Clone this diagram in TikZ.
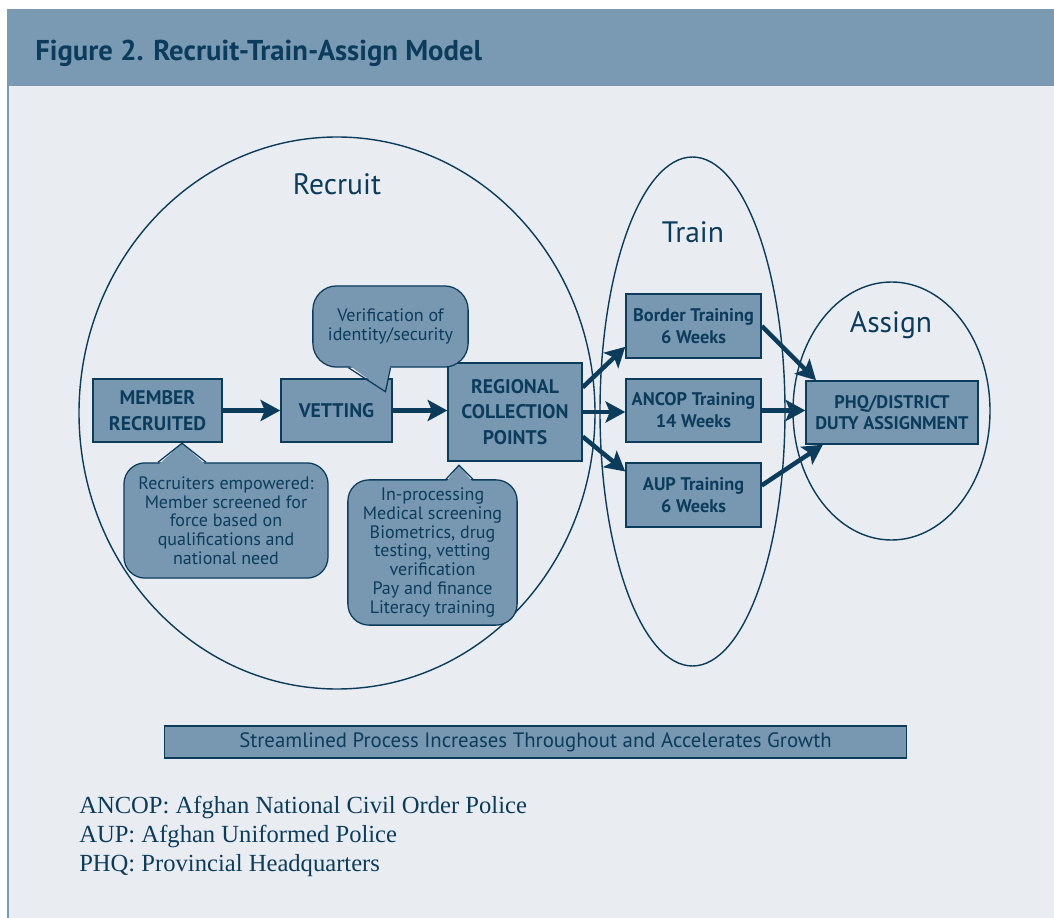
\documentclass[tikz,border=0pt]{standalone}
\usepackage{fontspec}
\setmainfont{PT Sans}
\newfontfamily\notefont{Liberation Serif}
\usetikzlibrary{calc,arrows.meta}
\definecolor{navy}{RGB}{12,60,92}
\definecolor{hdrblue}{RGB}{122,154,180}
\definecolor{boxblue}{RGB}{120,152,178}
\definecolor{paleback}{RGB}{233,237,242}
\tikzset{>={Stealth[length=14pt,width=15pt,inset=3pt]}}
\tikzset{
  stagebox/.style={draw=navy, fill=boxblue, line width=0.9pt, text=navy,
    font=\bfseries\fontsize{14}{18.4}\selectfont, align=center, inner sep=2pt},
  trainbox/.style={stagebox, font=\bfseries\fontsize{13}{15.5}\selectfont,
    minimum width=3.38cm, minimum height=1.6cm},
  bubble/.style={draw=navy, fill=boxblue, line width=0.9pt, rounded corners=15pt,
    text=navy, font=\fontsize{12.8}{13.3}\selectfont, align=center, inner sep=2pt},
  pointer/.style={draw=navy, fill=boxblue, line width=0.9pt},
  flow/.style={->, draw=navy, line width=3.2pt},
  setline/.style={draw=navy, line width=1pt},
  setlabel/.style={text=navy, font=\fontsize{21}{24}\selectfont, anchor=base},
  footnote/.style={text=navy, font=\notefont\fontsize{17.5}{20}\selectfont, anchor=base west, inner sep=0pt}
}

\begin{document}
\begin{tikzpicture}[x=0.025cm,y=-0.025cm]
    \useasboundingbox (0,0) rectangle (1054,918);
    % Page, header band and body
    \fill[white] (0,0) rectangle (1054,918);
    \fill[hdrblue] (7,9) rectangle (1054,86);
    \fill[paleback] (7,86) rectangle (1054,918);
    \draw[hdrblue, line width=1.4pt] (7.7,86) -- (7.7,918);
    \node[anchor=base west, text=navy, font=\bfseries\fontsize{20.4}{24}\selectfont, inner sep=0pt]
        (title) at (35,61) {Figure 2. Recruit-Train-Assign Model};

    % The three stages
    \draw[setline] (337,413) ellipse [x radius=258, y radius=276];
    \draw[setline] (692.5,411.5) ellipse [x radius=92.5, y radius=254.5];
    \draw[setline] (891.5,411) ellipse [x radius=98.5, y radius=129];
    \node[setlabel] (recruit) at (337,195) {Recruit};
    \node[setlabel] (train) at (693,243) {Train};
    \node[setlabel] (assign) at (891,333) {Assign};

    % Recruit boxes
    \node[stagebox, minimum width=3.23cm, minimum height=1.58cm] (member) at (157.5,410.5) {MEMBER\\RECRUITED};
    \node[stagebox, minimum width=2.78cm, minimum height=1.58cm] (vetting) at (336.5,410.5) {VETTING};
    \node[stagebox, minimum width=3.35cm, minimum height=2.45cm] (regional) at (515,412) {REGIONAL\\COLLECTION\\POINTS};

    % Train boxes
    \node[trainbox] (border) at (693.5,326) {Border Training\\6 Weeks};
    \node[trainbox, minimum height=1.58cm] (ancop) at (693.5,410.5) {ANCOP Training\\14 Weeks};
    \node[trainbox] (aup) at (693.5,495) {AUP Training\\6 Weeks};

    % Assign box
    \node[stagebox, font=\bfseries\fontsize{13}{15}\selectfont, minimum width=4.3cm, minimum height=1.58cm]
        (phq) at (892,412.5) {PHQ/DISTRICT\\DUTY ASSIGNMENT};

    % Callouts
    \node[bubble, rounded corners=17pt, minimum width=3.88cm, minimum height=2.03cm]
        (verif) at (390.5,326.5) {Verification of\\identity/security};
    \fill[pointer, draw=none] ($(verif.south)+(-42,-3)$) -- ($(verif.south)+(-5,24)$) -- ($(verif.south)+(0,-3)$) -- cycle;
    \draw[pointer, fill=none] ($(verif.south)+(-42,0)$) -- ($(verif.south)+(-5,24)$) -- ($(verif.south)+(0,0)$);

    \node[bubble, minimum width=5.1cm, minimum height=2.88cm]
        (recruiters) at (226,520.5) {Recruiters empowered:\\Member screened for\\force based on\\qualifications and\\national need};
    \fill[pointer, draw=none] ($(recruiters.north)+(-68,3)$) -- ($(recruiters.north)+(-44,-19)$) -- ($(recruiters.north)+(-20,3)$) -- cycle;
    \draw[pointer, fill=none] ($(recruiters.north)+(-68,0)$) -- ($(recruiters.north)+(-44,-19)$) -- ($(recruiters.north)+(-20,0)$);

    \node[bubble, minimum width=4.23cm, minimum height=3.63cm]
        (inproc) at (432.5,552.5) {In-processing\\Medical screening\\Biometrics, drug\\testing, vetting\\verification\\Pay and finance\\Literacy training};
    \fill[pointer, draw=none] ($(inproc.north)+(13.5,3)$) -- ($(inproc.north)+(26.5,-14)$) -- ($(inproc.north)+(40.5,3)$) -- cycle;
    \draw[pointer, fill=none] ($(inproc.north)+(13.5,0)$) -- ($(inproc.north)+(26.5,-14)$) -- ($(inproc.north)+(40.5,0)$);

    % Arrows
    \draw[flow] (member.east) -- (vetting.west);
    \draw[flow] (vetting.east) -- (vetting.east -| regional.west);
    \draw[flow] (regional.20) -- (border.197);
    \draw[flow] (regional.east) -- (regional.east -| ancop.west);
    \draw[flow] (regional.-20) -- (aup.161);
    \draw[flow] (border.east) -- (phq.157);
    \draw[flow] (ancop.east) -- (ancop.east -| phq.west);
    \draw[flow] (aup.8) -- (phq.205);

    % Banner
    \node[draw=navy, fill=boxblue, line width=0.9pt, text=navy, font=\fontsize{14.8}{17}\selectfont,
        minimum width=18.53cm, minimum height=0.8cm] (banner) at (535.5,742)
        {Streamlined Process Increases Throughout and Accelerates Growth};

    % Abbreviations
    \node[footnote] (note1) at (79,813) {ANCOP: Afghan National Civil Order Police};
    \node[footnote] (note2) at (79,842) {AUP: Afghan Uniformed Police};
    \node[footnote] (note3) at (79,871) {PHQ: Provincial Headquarters};
\end{tikzpicture}
\end{document}
